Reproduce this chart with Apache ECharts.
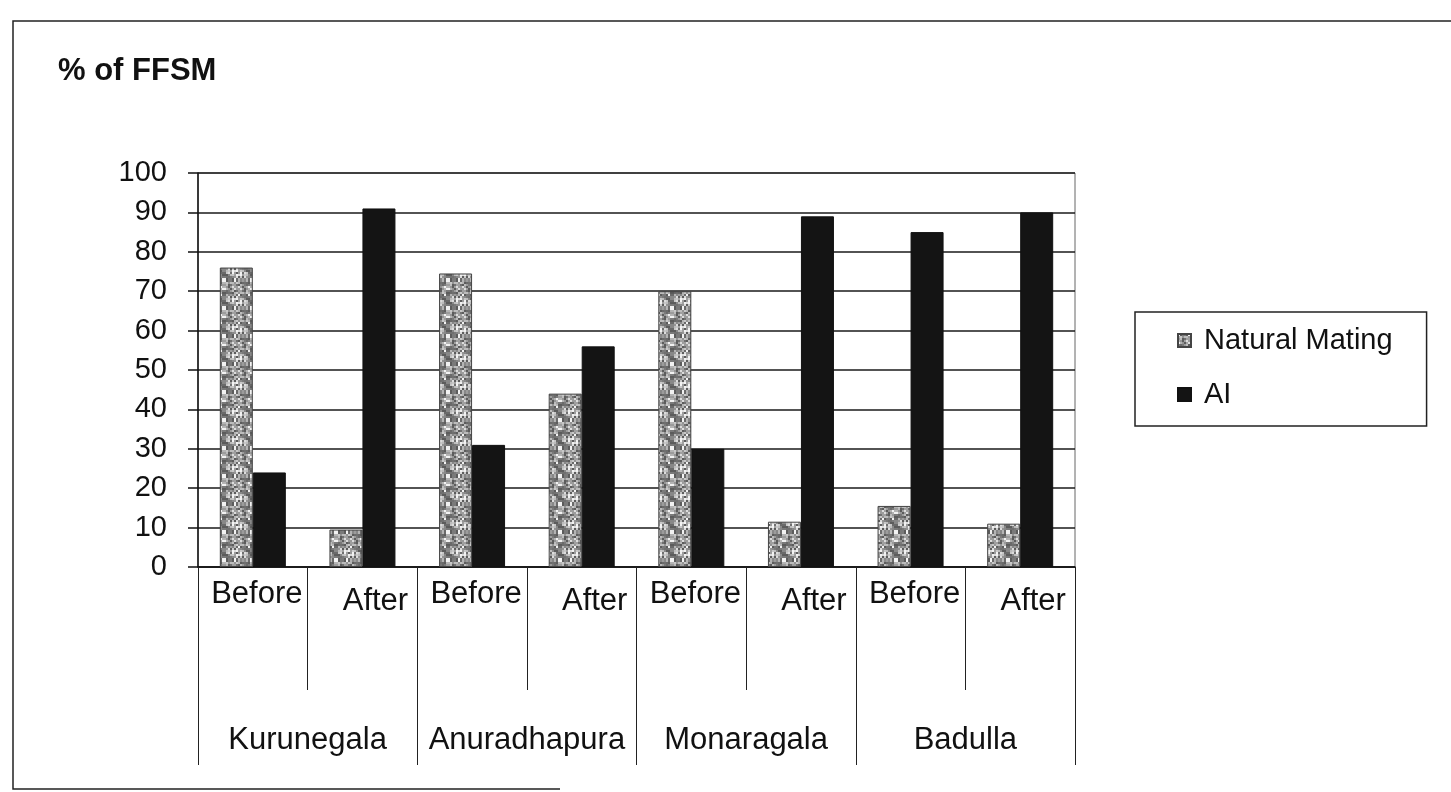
<!DOCTYPE html>
<html>
<head>
<meta charset="utf-8">
<script src="https://cdn.jsdelivr.net/npm/echarts@6/dist/echarts.min.js"></script>
<style>
html,body{margin:0;padding:0;background:#fff;}
#chart{width:1451px;height:792px;}
</style>
</head>
<body>
<div id="chart"></div>
<script>
// ---- data ----
const categories = ['Before','After','Before','After','Before','After','Before','After'];
const districts = ['Kurunegala','Anuradhapura','Monaragala','Badulla'];
const naturalMating = [76, 9.5, 74.5, 44, 70, 11.5, 15.5, 11];
const aiValues = [24, 91, 31, 56, 30, 89, 85, 90];
const seriesNames = ['Natural Mating', 'AI'];
const yMin = 0, yMax = 100, yStep = 10;
const titleText = '% of FFSM';

// ---- mottled texture for Natural Mating bars (deterministic) ----
function makeTexture(){
  const n = 14, s = 2;
  const c = document.createElement('canvas');
  c.width = n * s; c.height = n * s;
  const ctx = c.getContext('2d');
  const levels = ['#f2f2f2','#c8c8c8','#a0a0a0','#888888','#6a6a6a','#b4b4b4','#5c5c5c','#949494','#dcdcdc','#7a7a7a','#bcbcbc','#9c9c9c','#707070'];
  for (let y = 0; y < n; y++){
    for (let x = 0; x < n; x++){
      const v = (x*x*5 + y*11 + x*y*3 + y*y*7 + x) % levels.length;
      ctx.fillStyle = levels[v];
      ctx.fillRect(x*s, y*s, s, s);
    }
  }
  return c;
}
const texture = makeTexture();

const chart = echarts.init(document.getElementById('chart'), null, {renderer:'canvas'});
const font = 'Arial, "Liberation Sans", sans-serif';

chart.setOption({
  backgroundColor: '#ffffff',
  animation: false,
  title: {
    text: titleText,
    left: 53, top: 51,
    textStyle: {fontFamily: font, fontSize: 31, fontWeight: 'bold', color: '#111'}
  },
  legend: {
    data: seriesNames,
    orient: 'vertical',
    left: 1135, top: 312,
    padding: [14, 34, 17, 42],
    itemGap: 25,
    itemWidth: 13, itemHeight: 13,
    icon: 'rect',
    borderColor: '#222', borderWidth: 1.5,
    textStyle: {fontFamily: font, fontSize: 29, color: '#111', padding: [0,0,0,8]}
  },
  grid: {
    left: 198, right: 376, top: 173, bottom: 225,
    show: true, borderColor: '#666', borderWidth: 1
  },
  xAxis: [
    {
      type: 'category',
      data: categories,
      position: 'bottom',
      axisLine: {show: true, lineStyle: {color: '#111', width: 1.5}},
      axisTick: {show: true, interval: 0, length: 123, lineStyle: {color: '#222', width: 1}},
      axisLabel: {
        interval: 0, margin: 12,
        formatter: function(v){ return v === 'After' ? '{a|' + v + '}' : '{b|' + v + '}'; },
        rich: {
          a: {fontFamily: font, fontSize: 31, color: '#111', padding: [7, 0, 0, 26]},
          b: {fontFamily: font, fontSize: 31, color: '#111', padding: [0, 0, 0, 8]}
        }
      },
      splitLine: {show: false}
    },
    {
      type: 'category',
      data: districts,
      position: 'bottom',
      axisLine: {show: false},
      axisTick: {show: true, interval: 0, length: 198, lineStyle: {color: '#222', width: 1}},
      axisLabel: {interval: 0, margin: 158, fontFamily: font, fontSize: 31, color: '#111'},
      splitLine: {show: false}
    }
  ],
  yAxis: {
    type: 'value',
    min: yMin, max: yMax, interval: yStep,
    axisLine: {show: true, lineStyle: {color: '#111', width: 1.5}},
    axisTick: {show: true, length: 10, inside: false, lineStyle: {color: '#111', width: 1.5}},
    axisLabel: {fontFamily: font, fontSize: 29, color: '#111', margin: 31},
    splitLine: {show: true, lineStyle: {color: '#1a1a1a', width: 1.5}}
  },
  series: [
    {
      name: seriesNames[0],
      type: 'bar',
      xAxisIndex: 0,
      data: naturalMating,
      barWidth: 33,
      barGap: '0%',
      itemStyle: {color: {image: texture, repeat: 'repeat'}, borderColor: '#444', borderWidth: 1}
    },
    {
      name: seriesNames[1],
      type: 'bar',
      xAxisIndex: 0,
      data: aiValues,
      barWidth: 33,
      barGap: '0%',
      itemStyle: {color: '#141414', borderColor: '#111', borderWidth: 1}
    }
  ],
  graphic: [
    {
      type: 'polyline',
      silent: true,
      shape: {points: [[1451, 21], [13, 21], [13, 789], [560, 789]]},
      style: {stroke: '#222', lineWidth: 1.5, fill: null}
    }
  ]
});
</script>
</body>
</html>
